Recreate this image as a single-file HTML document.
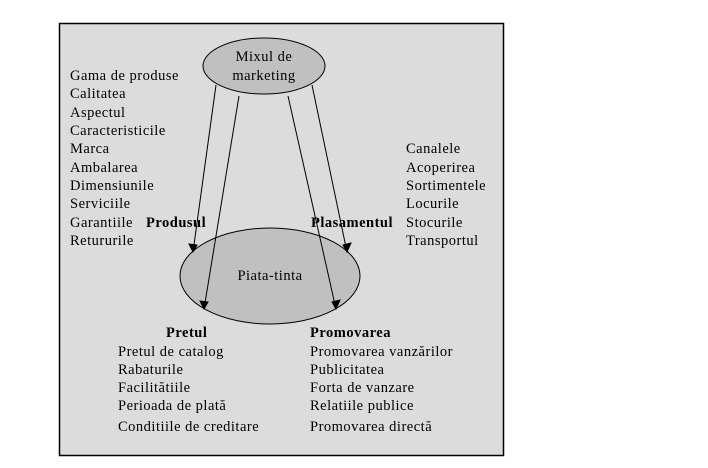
<!DOCTYPE html>
<html><head><meta charset="utf-8"><style>
html,body{margin:0;padding:0;background:#fff;}
svg{display:block;}
text{font-family:"Liberation Serif",serif;font-size:14.5px;letter-spacing:0.5px;fill:#000;}
.b{font-weight:bold;}
</style></head><body>
<svg width="708" height="468" viewBox="0 0 708 468" xmlns="http://www.w3.org/2000/svg">
<rect x="59.5" y="23.5" width="444" height="432" fill="#dcdcdc" stroke="#000" stroke-width="1.5"/>
<ellipse cx="264" cy="66" rx="61" ry="28" fill="#c0c0c0" stroke="#000"/>
<ellipse cx="270" cy="276" rx="90" ry="48" fill="#c0c0c0" stroke="#000"/>
<g stroke="#000" stroke-width="1" fill="#000">
<line x1="216" y1="85" x2="193" y2="252"/><path d="M189,244 L197,245 L193,252 z"/>
<line x1="239" y1="96" x2="204" y2="309"/><path d="M200,301 L208,302 L204,309 z"/>
<line x1="288" y1="96" x2="336" y2="309"/><path d="M332,302 L340,300 L336,309 z"/>
<line x1="312" y1="85" x2="347" y2="252"/><path d="M343,245 L351,243 L347,252 z"/>
</g>
<text x="264" y="61" text-anchor="middle">Mixul de</text>
<text x="264" y="80" text-anchor="middle">marketing</text>
<text x="270" y="280" text-anchor="middle">Piata-tinta</text>
<g>
<text x="70" y="80">Gama de produse</text>
<text x="70" y="98">Calitatea</text>
<text x="70" y="117">Aspectul</text>
<text x="70" y="135">Caracteristicile</text>
<text x="70" y="153">Marca</text>
<text x="70" y="172">Ambalarea</text>
<text x="70" y="190">Dimensiunile</text>
<text x="70" y="208">Serviciile</text>
<text x="70" y="227">Garantiile</text>
<text x="70" y="245">Retururile</text>
</g>
<text x="146" y="227" class="b">Produsul</text>
<text x="311" y="227" class="b">Plasamentul</text>
<g>
<text x="406" y="153">Canalele</text>
<text x="406" y="172">Acoperirea</text>
<text x="406" y="190">Sortimentele</text>
<text x="406" y="208">Locurile</text>
<text x="406" y="227">Stocurile</text>
<text x="406" y="245">Transportul</text>
</g>
<text x="166" y="337" class="b">Pretul</text>
<text x="310" y="337" class="b">Promovarea</text>
<g>
<text x="118" y="356">Pretul de catalog</text>
<text x="118" y="374">Rabaturile</text>
<text x="118" y="392">Facilitătiile</text>
<text x="118" y="410">Perioada de plată</text>
<text x="118" y="431">Conditiile de creditare</text>
<text x="310" y="356">Promovarea vanzărilor</text>
<text x="310" y="374">Publicitatea</text>
<text x="310" y="392">Forta de vanzare</text>
<text x="310" y="410">Relatiile publice</text>
<text x="310" y="431">Promovarea directă</text>
</g>
</svg>
</body></html>
